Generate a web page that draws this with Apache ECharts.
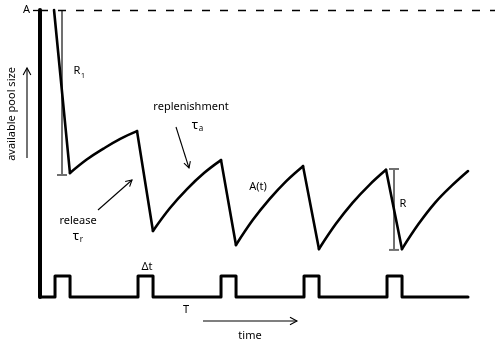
<!DOCTYPE html>
<html>
<head>
<meta charset="utf-8">
<script src="https://cdn.jsdelivr.net/npm/echarts@6/dist/echarts.min.js"></script>
<style>
html, body { margin: 0; padding: 0; background: #fff; }
#main { width: 495px; height: 359px; }
</style>
</head>
<body>
<div id="main"></div>
<script>
// time in tenths of the stimulus period T, pool size relative to A
var poolTime = [1.69, 3.61, 5.63, 7.65, 9.67, 11.69, 13.61, 15.66, 17.71, 19.76, 21.81,
    23.61, 25.63, 27.65, 29.67, 31.69, 33.61, 35.63, 37.65, 39.67, 41.69,
    43.61, 45.60, 47.59, 49.58, 51.57];
var poolSize = [1.0, 0.432, 0.479, 0.517, 0.551, 0.578, 0.230, 0.310, 0.376, 0.432, 0.477,
    0.181, 0.268, 0.341, 0.404, 0.456, 0.167, 0.254, 0.328, 0.390, 0.443,
    0.167, 0.254, 0.328, 0.387, 0.439];

// stimulus pulses (start times), pulse width and end of trace
var pulseOn = [1.81, 11.81, 21.81, 31.81, 41.81];
var pulseWidth = 1.81;
var traceEnd = 51.57;

// release amplitude bars: R1 and R
var barTime = [2.65, 42.65];
var barTop = [1.0, 0.446];
var barBottom = [0.425, 0.164];
var barTopCap = [0, 1];

var xMax = 54.82;

// split the trace into release drops (straight) and replenishment rises (curved)
var dropData = [], riseData = [];
for (var i = 0; i < poolTime.length - 1; i++) {
    var p0 = [poolTime[i], poolSize[i]], p1 = [poolTime[i + 1], poolSize[i + 1]];
    if (poolSize[i + 1] < poolSize[i]) {
        dropData.push(p0, p1, [null, null]);
        riseData.push([null, null]);
    } else {
        if (!riseData.length || riseData[riseData.length - 1][0] === null) riseData.push(p0);
        riseData.push(p1);
    }
}

var pulseData = [[0, 0]];
for (var j = 0; j < pulseOn.length; j++) {
    pulseData.push([pulseOn[j], 0], [pulseOn[j], 1],
        [pulseOn[j] + pulseWidth, 1], [pulseOn[j] + pulseWidth, 0]);
}
pulseData.push([traceEnd, 0]);

var barData = [];
for (var k = 0; k < barTime.length; k++) {
    barData.push([barTime[k], barTop[k], barBottom[k], barTopCap[k]]);
}

var font = 'Noto Sans';

function txt(x, y, s, size, extra) {
    var el = {
        type: 'text', x: x, y: y, silent: true,
        style: {
            text: s, fontFamily: font, fontSize: size || 11, fill: '#000',
            align: 'center', verticalAlign: 'middle'
        }
    };
    if (extra) {
        for (var p in extra) el[p] = extra[p];
    }
    return el;
}

function arrow(x1, y1, x2, y2, head) {
    var a = Math.atan2(y2 - y1, x2 - x1);
    var h1 = [x2 - head * Math.cos(a - 0.5), y2 - head * Math.sin(a - 0.5)];
    var h2 = [x2 - head * Math.cos(a + 0.5), y2 - head * Math.sin(a + 0.5)];
    return [
        {type: 'line', silent: true, shape: {x1: x1, y1: y1, x2: x2, y2: y2},
            style: {stroke: '#000', lineWidth: 1.1}},
        {type: 'polyline', silent: true, shape: {points: [h1, [x2, y2], h2]},
            style: {stroke: '#000', lineWidth: 1.1, fill: null}}
    ];
}

var graphics = [
    txt(77, 71, 'R'),
    txt(83, 75.5, '1', 7),
    txt(191, 107, 'replenishment'),
    txt(195, 125, 'τ', 13),
    txt(201, 129, 'a', 8),
    txt(78, 221, 'release'),
    txt(76, 236, 'τ', 13),
    txt(81.5, 240, 'r', 8),
    txt(258, 187, 'A(t)'),
    txt(403, 204, 'R'),
    txt(147, 267, 'Δt'),
    txt(186, 310, 'T'),
    txt(250, 336, 'time'),
    txt(12, 114, 'available pool size', 11, {rotation: Math.PI / 2})
].concat(
    arrow(176, 127, 189, 168, 7),
    arrow(98, 210, 132, 180, 7),
    arrow(203, 321, 297, 321, 8),
    arrow(27, 158, 27, 68, 8)
);

var chart = echarts.init(document.getElementById('main'));
chart.setOption({
    animation: false,
    backgroundColor: '#fff',
    graphic: graphics,
    grid: [
        {left: 40, right: 0, top: 10, bottom: 62},
        {left: 40, right: 0, top: 276, bottom: 62}
    ],
    xAxis: [
        {gridIndex: 0, type: 'value', min: 0, max: xMax, show: false},
        {gridIndex: 1, type: 'value', min: 0, max: xMax, show: false}
    ],
    yAxis: [
        {
            gridIndex: 0, type: 'value', min: 0, max: 1,
            axisLine: {show: true, lineStyle: {color: '#000', width: 4}},
            axisTick: {show: true, customValues: [1], length: 7, lineStyle: {color: '#000', width: 1.3}},
            axisLabel: {
                customValues: [1], margin: 10, color: '#000', fontFamily: font, fontSize: 11,
                formatter: function () { return 'A'; }
            },
            splitLine: {show: false}
        },
        {gridIndex: 1, type: 'value', min: 0, max: 1, show: false}
    ],
    series: [
        {
            type: 'line', xAxisIndex: 0, yAxisIndex: 0, data: dropData,
            showSymbol: false, clip: false, silent: true, connectNulls: false,
            lineStyle: {color: '#000', width: 2.6, cap: 'round'},
            markLine: {
                silent: true, symbol: 'none', label: {show: false},
                lineStyle: {color: '#000', width: 1.3, type: [8, 10]},
                data: [{yAxis: 1}]
            },
            z: 3
        },
        {
            type: 'line', xAxisIndex: 0, yAxisIndex: 0, data: riseData,
            showSymbol: false, clip: false, silent: true, connectNulls: false, smooth: 0.4,
            lineStyle: {color: '#000', width: 2.6, cap: 'round'},
            z: 3
        },
        {
            type: 'custom', xAxisIndex: 0, yAxisIndex: 0, data: barData, clip: false, silent: true,
            renderItem: function (params, api) {
                var t = api.coord([api.value(0), api.value(1)]);
                var b = api.coord([api.value(0), api.value(2)]);
                var st = {stroke: '#707070', lineWidth: 2};
                var ch = [
                    {type: 'line', shape: {x1: t[0], y1: t[1], x2: b[0], y2: b[1]}, style: st},
                    {type: 'line', shape: {x1: b[0] - 5, y1: b[1], x2: b[0] + 5, y2: b[1]}, style: st}
                ];
                if (api.value(3)) {
                    ch.push({type: 'line', shape: {x1: t[0] - 5, y1: t[1], x2: t[0] + 5, y2: t[1]}, style: st});
                }
                return {type: 'group', children: ch};
            },
            z: 2
        },
        {
            type: 'line', xAxisIndex: 1, yAxisIndex: 1, data: pulseData,
            showSymbol: false, clip: false, silent: true,
            lineStyle: {color: '#000', width: 3, join: 'round', cap: 'round'}
        }
    ]
});
</script>
</body>
</html>
